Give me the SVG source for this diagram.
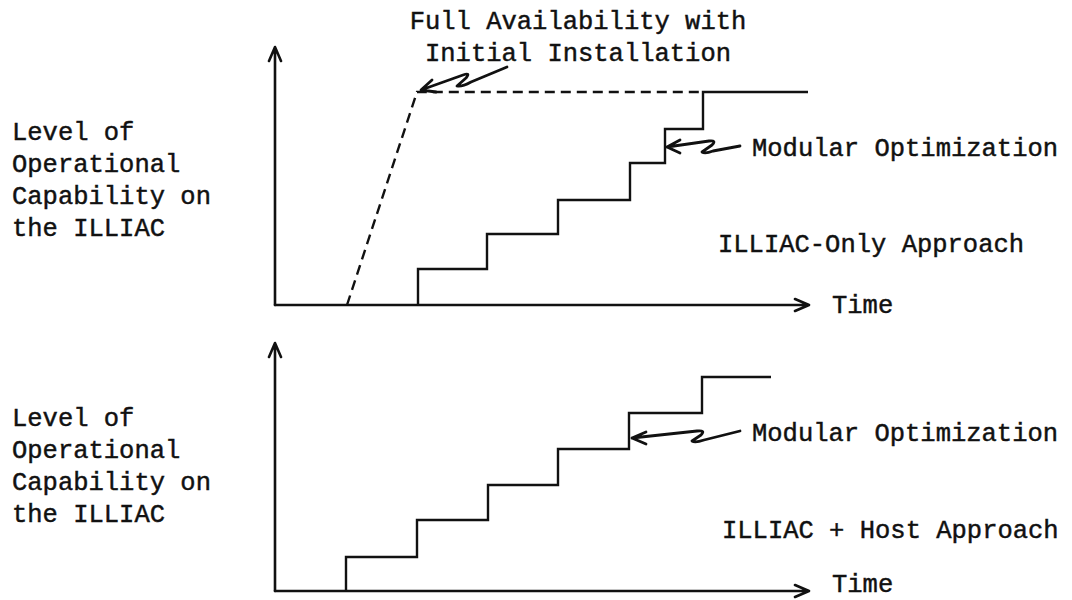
<svg xmlns="http://www.w3.org/2000/svg" width="1072" height="600" viewBox="0 0 1072 600">
<style>
.t{font-family:"Liberation Mono","Courier New",monospace;font-size:25.5px;fill:#111;stroke:#111;stroke-width:0.45}
.ax{fill:none;stroke:#111;stroke-width:2.6;stroke-linecap:round;stroke-linejoin:round}
.st{fill:none;stroke:#111;stroke-width:2.4;stroke-linejoin:miter}
.da{fill:none;stroke:#111;stroke-width:2.4;stroke-dasharray:10 6}
.sq{fill:none;stroke:#111;stroke-width:2.8;stroke-linecap:round;stroke-linejoin:round}
</style>
<rect width="1072" height="600" fill="#fff"/>
<g id="top-chart">
  <g id="top-axes">
    <path class="ax" d="M275,305 V48 M269,61 L275,47 L281,61"/>
    <path class="ax" d="M275,305 H808 M795,299 L809,305 L795,311"/>
  </g>
  <g id="top-dashed">
    <path class="da" d="M347,305 L417,92 H703"/>
  </g>
  <g id="top-steps">
    <path class="st" d="M418,305 V269 H487 V234 H558 V200 H630 V163 H665 V129 H703 V92 H808"/>
  </g>
  <g id="top-labels">
    <text class="t" x="12" y="140">Level of</text>
    <text class="t" x="12" y="172">Operational</text>
    <text class="t" x="12" y="204">Capability on</text>
    <text class="t" x="12" y="236">the ILLIAC</text>
    <text class="t" x="578" y="29" text-anchor="middle">Full Availability with</text>
    <text class="t" x="578" y="61" text-anchor="middle">Initial Installation</text>
    <text class="t" x="752" y="156">Modular Optimization</text>
    <text class="t" x="718" y="252">ILLIAC-Only Approach</text>
    <text class="t" x="832" y="313">Time</text>
  </g>
  <g id="top-pointers">
    <path class="sq" d="M421,90 L463,75 Q471,72 466,78 L457,86 Q462,87 471,82 L507,67 M432,80 L421,90 L436,92"/>
    <path class="sq" d="M667,147 L709,141 Q717,140 712,145 L702,152 Q705,154 713,151 L740,146 M680,140 L667,147 L680,153"/>
  </g>
</g>
<g id="bottom-chart">
  <g id="bottom-axes">
    <path class="ax" d="M275,591 V344 M269,357 L275,343 L281,357"/>
    <path class="ax" d="M275,591 H808 M795,585 L809,591 L795,597"/>
  </g>
  <g id="bottom-steps">
    <path class="st" d="M346,591 V557 H417 V520 H488 V485 H558 V449 H629 V413 H702 V377 H771"/>
  </g>
  <g id="bottom-labels">
    <text class="t" x="12" y="426">Level of</text>
    <text class="t" x="12" y="458">Operational</text>
    <text class="t" x="12" y="490">Capability on</text>
    <text class="t" x="12" y="522">the ILLIAC</text>
    <text class="t" x="752" y="441">Modular Optimization</text>
    <text class="t" x="722" y="538">ILLIAC + Host Approach</text>
    <text class="t" x="832" y="592">Time</text>
  </g>
  <g id="bottom-pointers">
    <path class="sq" d="M632,438 L697,431 Q706,430 701,435 L692,441 Q695,443 704,440 L740,431 M646,432 L632,438 L646,444"/>
  </g>
</g>
</svg>
